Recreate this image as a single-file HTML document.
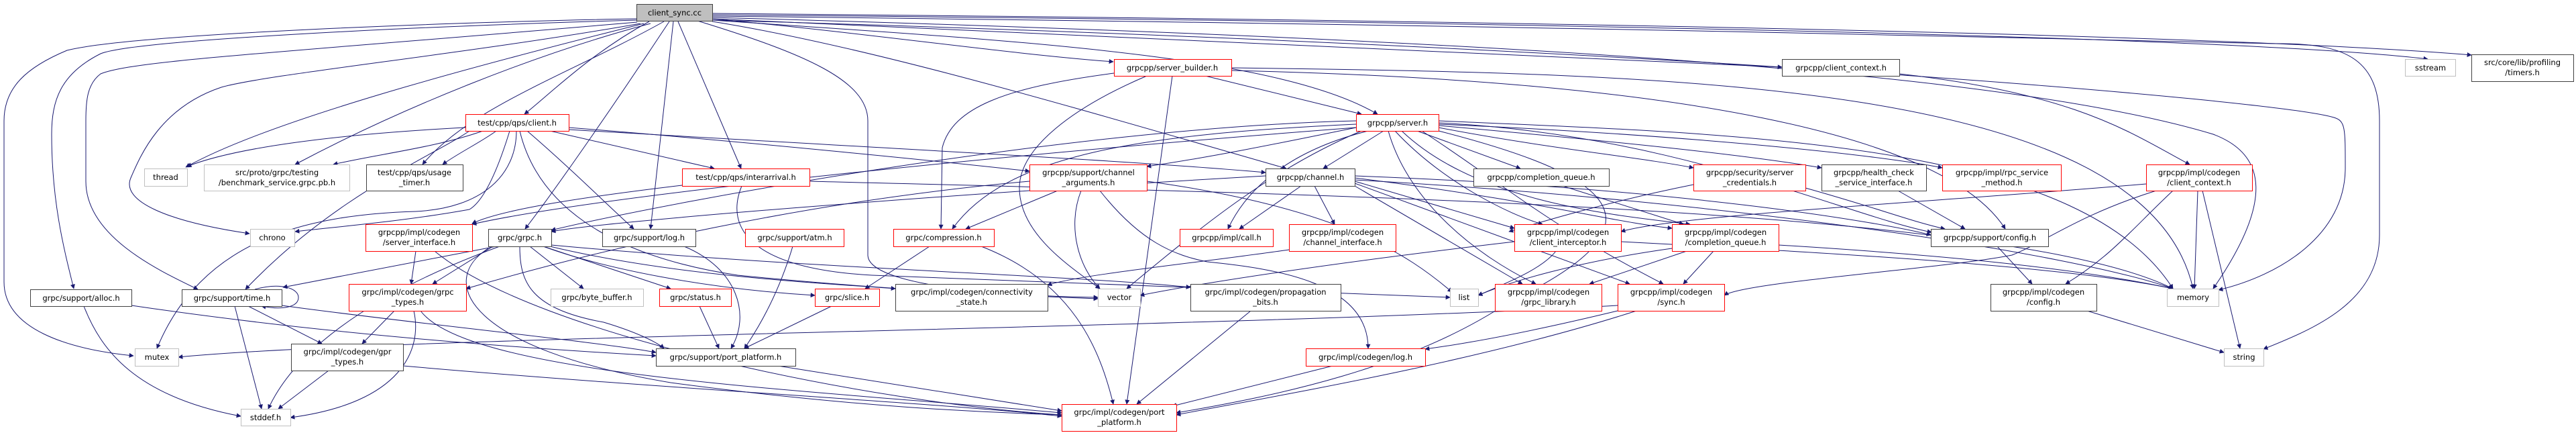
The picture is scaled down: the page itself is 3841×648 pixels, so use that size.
<!DOCTYPE html>
<html><head><meta charset="utf-8"><style>
html,body{margin:0;padding:0;background:#fff;width:3841px;height:648px;overflow:hidden}
svg{display:block}
text{font-family:"DejaVu Sans","Liberation Sans",sans-serif;font-size:11.5px;fill:#000;text-anchor:middle}
.e{fill:none;stroke:#191970;stroke-width:1;marker-end:url(#a)}
.r{fill:#fff;stroke:#ff0000}
.b{fill:#fff;stroke:#404040}
.g{fill:#fff;stroke:#bfbfbf}
</style></head><body>
<svg width="3841" height="648" viewBox="0 0 3841 648" xmlns="http://www.w3.org/2000/svg">
<defs><marker id="a" viewBox="0 0 10 10" refX="9" refY="5" markerWidth="9" markerHeight="7" orient="auto" markerUnits="userSpaceOnUse"><path d="M0,0 L10,5 L0,10 z" fill="#191970"/></marker></defs>
<g>
<!-- client_sync.cc edges -->
<path class="e" d="M949,28 C700,32 200,50 100,75 C40,100 6,130 6,180 L6,420 C6,490 100,520 199,530"/>
<path class="e" d="M949,30 C600,40 200,60 150,80 C90,110 77,150 77,200 C77,300 95,370 110,430"/>
<path class="e" d="M950,33 C400,80 200,90 150,110 C130,125 128,150 128,180 L128,270 C128,350 230,400 295,431"/>
<path class="e" d="M955,35 C700,80 400,110 330,130 C240,160 210,230 195,265 C180,300 250,330 372,348"/>
<path class="e" d="M960,35 C700,100 400,180 277,249"/>
<path class="e" d="M970,35 C800,80 600,160 440,245"/>
<path class="e" d="M990,32 C850,110 700,160 630,245"/>
<path class="e" d="M968,32 C880,80 820,140 782,170"/>
<path class="e" d="M998,32 C920,150 830,280 783,341"/>
<path class="e" d="M1004,32 L970,341"/>
<path class="e" d="M1011,32 L1105,251"/>
<path class="e" d="M1062,28 C1300,50 1500,80 1660,92"/>
<path class="e" d="M1062,30 C1500,60 1900,80 2054,170"/>
<path class="e" d="M1062,32 C1300,70 1600,160 1918,251"/>
<path class="e" d="M1040,31 C1200,80 1294,120 1294,180 L1294,380 C1294,420 1450,440 1637,443"/>
<path class="e" d="M1062,28 C1800,60 2400,90 2657,100"/>
<path class="e" d="M1062,22 C2000,30 3300,50 3620,88"/>
<path class="e" d="M1062,20 C2200,30 3300,50 3685,82"/>
<path class="e" d="M1062,24 C2500,40 3100,60 3400,65 C3500,65 3548,90 3548,180 L3548,350 C3548,450 3450,490 3375,520"/>
<path class="e" d="M1062,30 C2500,70 3400,150 3480,175 C3497,180 3497,190 3497,250 C3497,350 3400,410 3308,432"/>
<path class="e" d="M1062,26 C2300,60 3000,110 3300,200 C3380,230 3390,300 3300,430"/>
<!-- client.h -->
<path class="e" d="M694,190 C500,200 350,220 279,248"/>
<path class="e" d="M720,195 C650,220 560,230 497,245"/>
<path class="e" d="M740,195 C720,210 680,230 660,245"/>
<path class="e" d="M848,190 C1100,210 1400,240 1535,255"/>
<path class="e" d="M848,193 C1300,220 1700,240 1887,257"/>
<path class="e" d="M820,195 L1065,251"/>
<path class="e" d="M786,195 C850,250 900,300 945,341"/>
<path class="e" d="M700,195 C650,230 500,290 366,431"/>
<path class="e" d="M760,195 C740,260 720,300 700,312 C600,330 500,338 440,345"/>
<path class="e" d="M770,195 C770,260 720,310 620,315 C450,320 300,360 234,519"/>
<path class="e" d="M775,195 C800,300 900,380 1100,410 C1300,430 1500,440 1637,445"/>
<!-- grpc.h -->
<path class="e" d="M740,367 L422,428"/>
<path class="e" d="M735,367 L645,423"/>
<path class="e" d="M790,367 L870,430"/>
<path class="e" d="M810,367 L1000,430"/>
<path class="e" d="M810,367 C900,400 1050,430 1215,440"/>
<path class="e" d="M820,367 C1000,410 1200,420 1335,430"/>
<path class="e" d="M775,367 C775,420 790,460 900,480 C950,495 980,510 990,519"/>
<path class="e" d="M822,365 C1200,400 1600,410 1775,428"/>
<path class="e" d="M745,367 C600,420 450,500 400,609"/>
<path class="e" d="M728,370 C650,420 700,520 1000,570 C1300,610 1500,615 1583,618"/>
<!-- time.h etc -->
<path class="e" d="M380,431 C420,420 445,430 445,443 C445,458 420,462 390,456"/>
<path class="e" d="M350,456 L390,609"/>
<path class="e" d="M370,456 L480,512"/>
<path class="e" d="M420,455 C600,480 900,510 978,525"/>
<path class="e" d="M125,456 C150,520 200,590 359,620"/>
<path class="e" d="M196,455 C500,500 800,520 978,530"/>
<path class="e" d="M588,463 L540,512"/>
<path class="e" d="M617,463 C630,520 600,600 433,622"/>
<path class="e" d="M627,463 C700,560 1200,580 1583,615"/>
<path class="e" d="M490,552 L415,609"/>
<path class="e" d="M601,545 C1000,580 1400,600 1583,620"/>
<path class="e" d="M620,374 L613,423"/>
<path class="e" d="M648,374 C800,500 1300,600 1583,618"/>
<path class="e" d="M2412,455 C1800,490 600,500 266,532"/>
<path class="e" d="M1160,545 L1583,612"/>
<path class="e" d="M1020,367 C1100,400 1120,470 1090,519"/>
<path class="e" d="M1182,367 C1160,440 1130,490 1110,519"/>
<path class="e" d="M1043,456 L1072,519"/>
<path class="e" d="M1240,456 L1110,519"/>
<!-- interarrival -->
<path class="e" d="M1017,276 C900,290 750,310 704,333"/>
<path class="e" d="M1106,277 C1080,340 1120,400 1300,410 L2162,443"/>
<path class="e" d="M1207,270 C2000,290 3000,310 3240,430"/>
<!-- server_builder -->
<path class="e" d="M1661,109 C1500,130 1420,160 1405,220 L1403,341"/>
<path class="e" d="M1710,113 C1600,160 1520,220 1520,280 C1520,350 1600,400 1640,430"/>
<path class="e" d="M1748,113 L1680,602"/>
<path class="e" d="M1797,113 L2030,170"/>
<path class="e" d="M1836,101 C2500,110 3200,120 3270,430"/>
<path class="e" d="M1836,105 C2500,120 2900,200 2990,341"/>
<!-- server.h -->
<path class="e" d="M2022,190 C1900,215 1800,235 1710,248"/>
<path class="e" d="M2063,195 L1973,251"/>
<path class="e" d="M2022,185 C1700,200 1500,230 1420,341"/>
<path class="e" d="M2022,180 C1600,190 1000,300 822,343"/>
<path class="e" d="M2040,195 C1900,230 1850,300 1831,341"/>
<path class="e" d="M2030,195 C1900,250 1800,330 1680,430"/>
<path class="e" d="M2113,195 L2267,251"/>
<path class="e" d="M2145,190 C2300,220 2450,235 2525,250"/>
<path class="e" d="M2145,187 C2400,210 2600,230 2716,250"/>
<path class="e" d="M2145,185 C2500,200 2800,230 2896,250"/>
<path class="e" d="M2080,195 C2150,270 2250,320 2300,334"/>
<path class="e" d="M2090,195 C2200,300 2400,320 2520,334"/>
<path class="e" d="M2070,195 C2100,300 2200,380 2290,423"/>
<path class="e" d="M2120,195 C2250,280 2300,330 2480,423"/>
<path class="e" d="M2145,183 C2500,200 2750,320 2880,346"/>
<path class="e" d="M2145,180 C2600,200 3100,210 3240,430"/>
<path class="e" d="M2145,195 C2400,260 2500,330 2250,450 C2100,550 1900,590 1754,615"/>
<path class="e" d="M2022,190 C1500,230 900,290 704,334"/>
<!-- channel.h -->
<path class="e" d="M1940,277 L1848,341"/>
<path class="e" d="M1960,277 L1990,334"/>
<path class="e" d="M2020,270 L2258,340"/>
<path class="e" d="M2020,265 C2300,300 2400,330 2493,340"/>
<path class="e" d="M2020,277 L2270,423"/>
<path class="e" d="M2020,273 L2430,423"/>
<path class="e" d="M2020,262 C2500,280 2800,330 2879,350"/>
<path class="e" d="M2020,268 C2600,300 3100,380 3240,430"/>
<path class="e" d="M1887,262 C1400,290 900,330 822,345"/>
<!-- channel_arguments -->
<path class="e" d="M1577,284 L1440,341"/>
<path class="e" d="M1612,284 C1590,340 1610,400 1640,430"/>
<path class="e" d="M1710,270 C2000,310 2100,380 2165,435"/>
<path class="e" d="M1535,270 C1200,300 900,370 695,430"/>
<path class="e" d="M1640,284 C1700,360 1750,380 1800,390 C1900,400 2040,420 2040,519"/>
<!-- misc -->
<path class="e" d="M1386,367 L1290,430"/>
<path class="e" d="M1463,367 C1600,420 1640,520 1660,602"/>
<path class="e" d="M1922,372 C1800,390 1600,410 1562,425"/>
<path class="e" d="M1865,463 L1695,602"/>
<path class="e" d="M1987,545 L1748,605"/>
<path class="e" d="M2258,360 C2000,390 1800,420 1700,440"/>
<path class="e" d="M2320,374 C2300,400 2250,420 2204,440"/>
<path class="e" d="M2417,360 C2800,380 3100,400 3240,430"/>
<path class="e" d="M2555,374 L2510,423"/>
<path class="e" d="M2515,374 L2370,423"/>
<path class="e" d="M2493,370 C2350,390 2250,420 2204,440"/>
<path class="e" d="M2652,365 C2900,380 3100,400 3240,430"/>
<path class="e" d="M2440,463 C2200,540 1900,590 1754,618"/>
<path class="e" d="M2412,463 C2300,490 2200,510 2125,520"/>
<path class="e" d="M2330,277 L2510,334"/>
<path class="e" d="M2525,275 C2400,300 2300,330 2250,345"/>
<path class="e" d="M2692,280 C2800,310 2850,330 2900,341"/>
<path class="e" d="M2830,284 L2930,341"/>
<path class="e" d="M2832,110 C3100,140 3180,200 3265,245"/>
<path class="e" d="M3277,284 L3272,430"/>
<path class="e" d="M3284,284 L3340,519"/>
<path class="e" d="M3240,284 C3180,340 3150,380 3080,423"/>
<path class="e" d="M3215,284 C3100,320 3050,360 3000,380 C2900,400 2600,420 2571,440"/>
<path class="e" d="M3200,274 C2900,300 2500,320 2417,345"/>
<path class="e" d="M2978,367 L3030,423"/>
<path class="e" d="M3112,463 L3316,525"/>
</g>
<g>
<rect x="949.5" y="6.5" width="113" height="25" fill="#bfbfbf" stroke="#404040"/><text x="1006" y="23">client_sync.cc</text>
<rect class="r" x="694.5" y="170.5" width="154" height="25"/><text x="771" y="187">test/cpp/qps/client.h</text>
<rect class="g" x="215.5" y="251.5" width="64" height="26"/><text x="247" y="268">thread</text>
<rect class="g" x="304.5" y="245.5" width="217" height="39"/><text x="413" y="261">src/proto/grpc/testing</text><text x="413" y="276">/benchmark_service.grpc.pb.h</text>
<rect class="b" x="546.5" y="245.5" width="144" height="39"/><text x="618" y="261">test/cpp/qps/usage</text><text x="618" y="276">_timer.h</text>
<rect class="g" x="373.5" y="341.5" width="66" height="26"/><text x="406" y="358">chrono</text>
<rect class="r" x="545.5" y="334.5" width="159" height="40"/><text x="625" y="350">grpcpp/impl/codegen</text><text x="625" y="365">/server_interface.h</text>
<rect class="b" x="45.5" y="431.5" width="151" height="25"/><text x="121" y="448">grpc/support/alloc.h</text>
<rect class="b" x="271.5" y="431.5" width="149" height="25"/><text x="346" y="448">grpc/support/time.h</text>
<rect class="r" x="520.5" y="423.5" width="175" height="40"/><text x="608" y="439">grpc/impl/codegen/grpc</text><text x="608" y="454">_types.h</text>
<rect class="g" x="201.5" y="519.5" width="65" height="26"/><text x="234" y="536">mutex</text>
<rect class="b" x="434.5" y="512.5" width="167" height="40"/><text x="518" y="528">grpc/impl/codegen/gpr</text><text x="518" y="543">_types.h</text>
<rect class="g" x="359.5" y="609.5" width="74" height="25"/><text x="396" y="626">stddef.h</text>
<rect class="r" x="1017.5" y="251.5" width="190" height="26"/><text x="1112" y="268">test/cpp/qps/interarrival.h</text>
<rect class="b" x="728.5" y="341.5" width="94" height="26"/><text x="775" y="358">grpc/grpc.h</text>
<rect class="b" x="898.5" y="341.5" width="139" height="26"/><text x="968" y="358">grpc/support/log.h</text>
<rect class="r" x="1111.5" y="341.5" width="147" height="26"/><text x="1185" y="358">grpc/support/atm.h</text>
<rect class="r" x="1332.5" y="341.5" width="150" height="26"/><text x="1407" y="358">grpc/compression.h</text>
<rect class="g" x="821.5" y="430.5" width="138" height="26"/><text x="890" y="447">grpc/byte_buffer.h</text>
<rect class="r" x="983.5" y="430.5" width="107" height="26"/><text x="1037" y="447">grpc/status.h</text>
<rect class="r" x="1215.5" y="430.5" width="96" height="26"/><text x="1263" y="447">grpc/slice.h</text>
<rect class="b" x="1335.5" y="423.5" width="227" height="40"/><text x="1449" y="439">grpc/impl/codegen/connectivity</text><text x="1449" y="454">_state.h</text>
<rect class="b" x="978.5" y="519.5" width="208" height="26"/><text x="1082" y="536">grpc/support/port_platform.h</text>
<rect class="r" x="1661.5" y="88.5" width="175" height="25"/><text x="1748" y="105">grpcpp/server_builder.h</text>
<rect class="r" x="2022.5" y="170.5" width="123" height="25"/><text x="2084" y="187">grpcpp/server.h</text>
<rect class="r" x="1535.5" y="245.5" width="175" height="39"/><text x="1623" y="261">grpcpp/support/channel</text><text x="1623" y="276">_arguments.h</text>
<rect class="b" x="1887.5" y="251.5" width="133" height="26"/><text x="1954" y="268">grpcpp/channel.h</text>
<rect class="r" x="1759.5" y="341.5" width="139" height="26"/><text x="1829" y="358">grpcpp/impl/call.h</text>
<rect class="r" x="1922.5" y="334.5" width="159" height="40"/><text x="2002" y="350">grpcpp/impl/codegen</text><text x="2002" y="365">/channel_interface.h</text>
<rect class="g" x="1637.5" y="430.5" width="63" height="26"/><text x="1669" y="447">vector</text>
<rect class="b" x="1775.5" y="423.5" width="224" height="40"/><text x="1887" y="439">grpc/impl/codegen/propagation</text><text x="1887" y="454">_bits.h</text>
<rect class="r" x="1947.5" y="519.5" width="178" height="26"/><text x="2036" y="536">grpc/impl/codegen/log.h</text>
<rect class="r" x="1583.5" y="602.5" width="171" height="40"/><text x="1669" y="618">grpc/impl/codegen/port</text><text x="1669" y="633">_platform.h</text>
<rect class="b" x="2657.5" y="88.5" width="175" height="25"/><text x="2745" y="105">grpcpp/client_context.h</text>
<rect class="b" x="2197.5" y="251.5" width="202" height="26"/><text x="2298" y="268">grpcpp/completion_queue.h</text>
<rect class="r" x="2525.5" y="245.5" width="167" height="39"/><text x="2609" y="261">grpcpp/security/server</text><text x="2609" y="276">_credentials.h</text>
<rect class="b" x="2716.5" y="245.5" width="156" height="39"/><text x="2794" y="261">grpcpp/health_check</text><text x="2794" y="276">_service_interface.h</text>
<rect class="r" x="2258.5" y="334.5" width="159" height="40"/><text x="2338" y="350">grpcpp/impl/codegen</text><text x="2338" y="365">/client_interceptor.h</text>
<rect class="r" x="2493.5" y="334.5" width="159" height="40"/><text x="2573" y="350">grpcpp/impl/codegen</text><text x="2573" y="365">/completion_queue.h</text>
<rect class="g" x="2162.5" y="430.5" width="42" height="26"/><text x="2183" y="447">list</text>
<rect class="r" x="2229.5" y="423.5" width="159" height="40"/><text x="2309" y="439">grpcpp/impl/codegen</text><text x="2309" y="454">/grpc_library.h</text>
<rect class="r" x="2412.5" y="423.5" width="159" height="40"/><text x="2492" y="439">grpcpp/impl/codegen</text><text x="2492" y="454">/sync.h</text>
<rect class="r" x="2896.5" y="245.5" width="177" height="39"/><text x="2985" y="261">grpcpp/impl/rpc_service</text><text x="2985" y="276">_method.h</text>
<rect class="r" x="3200.5" y="245.5" width="158" height="39"/><text x="3279" y="261">grpcpp/impl/codegen</text><text x="3279" y="276">/client_context.h</text>
<rect class="b" x="2879.5" y="341.5" width="175" height="26"/><text x="2967" y="358">grpcpp/support/config.h</text>
<rect class="b" x="2968.5" y="423.5" width="158" height="40"/><text x="3047" y="439">grpcpp/impl/codegen</text><text x="3047" y="454">/config.h</text>
<rect class="g" x="3231.5" y="430.5" width="77" height="26"/><text x="3270" y="447">memory</text>
<rect class="g" x="3316.5" y="519.5" width="59" height="26"/><text x="3346" y="536">string</text>
<rect class="g" x="3586.5" y="88.5" width="75" height="25"/><text x="3624" y="105">sstream</text>
<rect class="b" x="3685.5" y="81.5" width="152" height="40"/><text x="3761" y="97">src/core/lib/profiling</text><text x="3761" y="112">/timers.h</text>
</g>
</svg>
</body></html>
